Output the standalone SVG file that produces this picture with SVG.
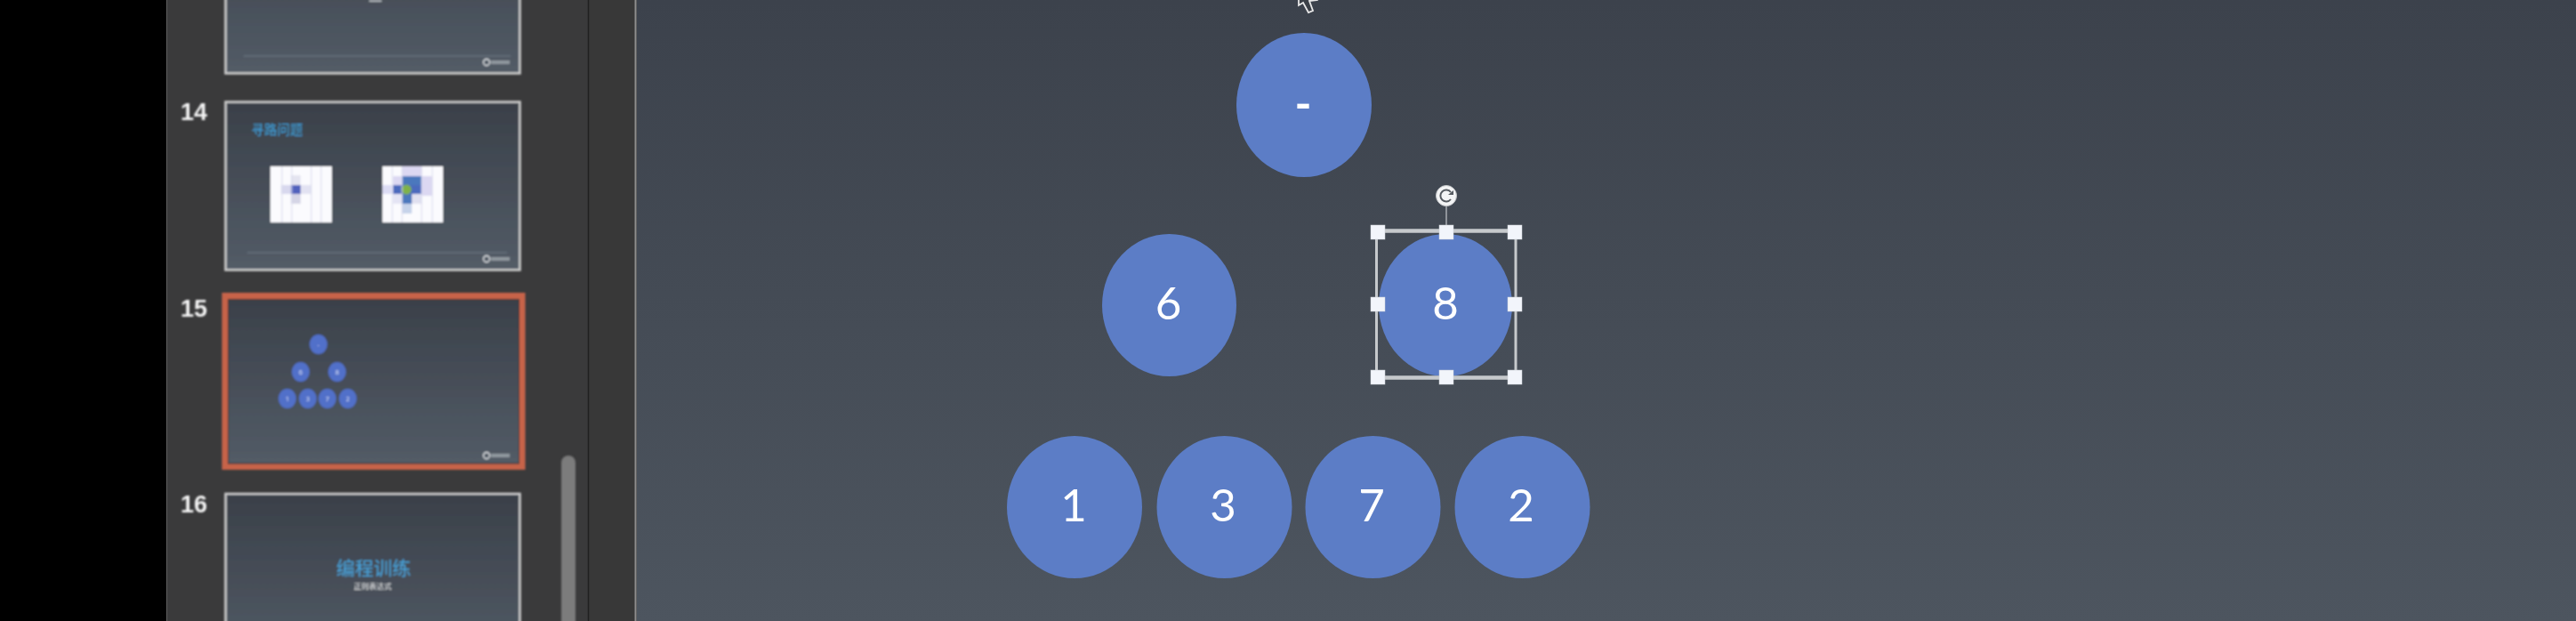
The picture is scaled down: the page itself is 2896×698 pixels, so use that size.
<svg xmlns="http://www.w3.org/2000/svg" width="2896" height="698" viewBox="0 0 2896 698">
<style>
.num{font-family:"Liberation Sans",Arial,sans-serif;font-weight:700;font-size:27px;fill:#f4f4f4;text-anchor:middle}
.lbl{font-family:Lato,"Noto Sans",sans-serif;font-size:51px;fill:#fff;text-anchor:middle}
.tl{font-family:"Noto Sans",sans-serif;font-size:7px;fill:#dfe6fa;text-anchor:middle}
.node{fill:#5b7dc6}
.tnode{fill:#5170c9}
.frame{fill:url(#sl);stroke:#cfcfcf;stroke-width:2.5}
.cjk{font-family:"Noto Sans CJK SC",sans-serif;text-anchor:middle}
.h{fill:#f2f5fb;stroke:#cfd3d8;stroke-width:.5}
.sel{stroke:#c6c9cc}
.foot{stroke:#66717c;stroke-width:1.5}
.grid{stroke:#d7d9ec;stroke-width:1}
.logo{fill:none;stroke:#e4e7ea;stroke-width:1.3}
.logot{fill:#aab0b6;opacity:.7}
</style>
<defs>
<linearGradient id="bg" x1="0" y1="0" x2="0" y2="1"><stop offset="0" stop-color="#3c424c"/><stop offset="1" stop-color="#4d555f"/></linearGradient>
<linearGradient id="sl" x1="0" y1="0" x2="0" y2="1"><stop offset="0" stop-color="#3a4049"/><stop offset="1" stop-color="#535c67"/></linearGradient>
<linearGradient id="sl13" gradientUnits="userSpaceOnUse" x1="0" y1="-100" x2="0" y2="83"><stop offset="0" stop-color="#3a4049"/><stop offset="1" stop-color="#535c67"/></linearGradient>
<linearGradient id="sl16" gradientUnits="userSpaceOnUse" x1="0" y1="554" x2="0" y2="750"><stop offset="0" stop-color="#3a4049"/><stop offset="1" stop-color="#535c67"/></linearGradient>
<filter id="b1" x="-5%" y="-5%" width="110%" height="110%"><feGaussianBlur stdDeviation="1"/></filter>
<filter id="b2" x="-5%" y="-5%" width="110%" height="110%"><feGaussianBlur stdDeviation="0.6"/></filter>
</defs>

<rect x="0" y="0" width="2896" height="698" fill="#000"/>
<rect x="187" y="0" width="475" height="698" fill="#3a3a3b"/>
<rect x="662" y="0" width="54" height="698" fill="#383838"/>
<rect x="716" y="0" width="2180" height="698" fill="url(#bg)"/>
<line x1="187.500" y1="0" x2="187.500" y2="698" stroke="#5e5e5e" stroke-width="1"/>
<line x1="661.500" y1="0" x2="661.500" y2="698" stroke="#202020" stroke-width="1.500"/>
<line x1="714.500" y1="0" x2="714.500" y2="698" stroke="#8e8e8e" stroke-width="2"/>

<g id="sidebar" filter="url(#b1)">
<g id="slide13">
<rect x="253.500" y="-10" width="331" height="92.500" fill="url(#sl13)" stroke="#cfcfcf" stroke-width="2.500"/>
<rect x="415" y="0" width="14" height="2" fill="#aeb3b8"/>
<line class="foot" x1="274" y1="63" x2="574" y2="63"/>
<circle class="logo" cx="547" cy="70" r="3.500"/><rect class="logot" x="552" y="68" width="21" height="4"/>
</g>
<g id="slide14">
<text class="num" x="218" y="135">14</text>
<rect class="frame" x="253.500" y="114.500" width="331" height="189"/>
<text class="cjk" x="311.500" y="151" font-size="14.500" fill="#3f9fd8">寻路问题</text>
<g id="grid1">
<rect x="304" y="187" width="69" height="63" fill="#fbfbfe"/>
<rect x="316" y="208" width="11" height="10" fill="#d8d8ee"/>
<rect x="338" y="208" width="12" height="10" fill="#e2e2f2"/>
<rect x="327" y="197" width="11" height="11" fill="#e4e4f0"/>
<rect x="327" y="218" width="11" height="11" fill="#d5d5e6"/>
<rect x="327" y="208" width="11" height="10" fill="#5162bd"/>
<path class="grid" d="M317 187V250M328 187V250M350 187V250M361 187V250"/>
</g>
<g id="grid2">
<rect x="430" y="187" width="68" height="63" fill="#fbfbfe"/>
<rect x="452" y="187" width="22" height="11" fill="#dcd8f2"/>
<rect x="474" y="198" width="12" height="22" fill="#dcd8f2"/>
<rect x="430" y="208" width="12" height="10" fill="#dcdcf4"/>
<rect x="442" y="198" width="10" height="10" fill="#dcd8f2"/>
<rect x="442" y="218" width="10" height="11" fill="#e4e4f4"/>
<rect x="463" y="218" width="11" height="11" fill="#e0e0f0"/>
<rect x="452" y="229" width="11" height="11" fill="#c6d3ea"/>
<rect x="452" y="198" width="22" height="10" fill="#4c78bd"/>
<rect x="442" y="208" width="32" height="10" fill="#4c6bbd"/>
<rect x="452" y="218" width="11" height="11" fill="#4c78bd"/>
<circle cx="457" cy="213" r="5.500" fill="#7fb24a"/>
<path class="grid" d="M441 187V250M452 187V250M474 187V250M486 187V250"/>
</g>
<line class="foot" x1="278" y1="284" x2="570" y2="284"/>
<circle class="logo" cx="547" cy="291" r="3.500"/><rect class="logot" x="552" y="289" width="21" height="4"/>
</g>
<g id="slide15">
<text class="num" x="218" y="356">15</text>
<rect x="253" y="332.500" width="334" height="192" fill="url(#sl)" stroke="#c7634a" stroke-width="7"/>
<rect x="256.500" y="336.500" width="327" height="184.500" fill="none" stroke="#34302f" stroke-width="1"/>
<g id="thumb-root"><ellipse class="tnode" cx="358" cy="387" rx="10" ry="11"/><text class="tl" x="358" y="390">-</text></g>
<g id="thumb-6"><ellipse class="tnode" cx="338" cy="418" rx="10" ry="11"/><text class="tl" x="338" y="420.500">6</text></g>
<g id="thumb-8"><ellipse class="tnode" cx="379" cy="418" rx="10" ry="11"/><text class="tl" x="379" y="420.500">8</text></g>
<g id="thumb-1"><ellipse class="tnode" cx="323" cy="448" rx="10" ry="11"/><text class="tl" x="323" y="450.500">1</text></g>
<g id="thumb-3"><ellipse class="tnode" cx="346" cy="448" rx="10" ry="11"/><text class="tl" x="346" y="450.500">3</text></g>
<g id="thumb-7"><ellipse class="tnode" cx="368" cy="448" rx="10" ry="11"/><text class="tl" x="368" y="450.500">7</text></g>
<g id="thumb-2"><ellipse class="tnode" cx="391" cy="448" rx="10" ry="11"/><text class="tl" x="391" y="450.500">2</text></g>
<circle class="logo" cx="547" cy="512" r="3.500"/><rect class="logot" x="552" y="510" width="21" height="4"/>
</g>
<g id="slide16">
<text class="num" x="218" y="576">16</text>
<rect x="253.500" y="555" width="331" height="160" fill="url(#sl16)" stroke="#cfcfcf" stroke-width="2.500"/>
<text class="cjk" x="420" y="646" font-size="21" fill="#47a3da">编程训练</text>
<text class="cjk" x="419" y="662" font-size="8.500" fill="#f2f2f2">正则表达式</text>
</g>
<rect id="scrollbar" x="631" y="512" width="16" height="200" rx="8" fill="#7b7b7c"/>
</g>

<g id="main" filter="url(#b2)">
<g id="node-root"><ellipse class="node" cx="1466" cy="118" rx="76" ry="81"/><text class="lbl" x="1465" y="135" font-weight="700">-</text></g>
<g id="node-6"><ellipse class="node" cx="1314.500" cy="343" rx="75.500" ry="80"/><text class="lbl" x="1313.500" y="359">6</text></g>
<g id="node-8"><ellipse class="node" cx="1625" cy="343" rx="75" ry="80"/><text class="lbl" x="1625" y="359">8</text></g>
<g id="node-1"><ellipse class="node" cx="1208" cy="570" rx="76" ry="80"/><text class="lbl" x="1207" y="586">1</text></g>
<g id="node-3"><ellipse class="node" cx="1376.500" cy="570" rx="76" ry="80"/><text class="lbl" x="1375" y="586">3</text></g>
<g id="node-7"><ellipse class="node" cx="1543.500" cy="570" rx="76" ry="80"/><text class="lbl" x="1542" y="586">7</text></g>
<g id="node-2"><ellipse class="node" cx="1711.500" cy="570" rx="76" ry="80"/><text class="lbl" x="1710" y="586">2</text></g>
<g id="selection">
<path class="sel" stroke-width="3" fill="none" d="M1547.500 260V424M1704 260V424"/>
<path class="sel" stroke-width="4.500" fill="none" d="M1547.500 259.500H1704M1547.500 424.500H1704"/>
<line x1="1626" y1="232" x2="1626" y2="254" stroke="#a9adb2" stroke-width="1.500"/>
<circle cx="1626" cy="220" r="11.500" fill="#f3f4f5" stroke="#c4c6c9" stroke-width="1"/>
<path d="M1631 216a6.500 6.500 0 1 0 0 8" fill="none" stroke="#555a60" stroke-width="2"/>
<path d="M1628 219h6v-5z" fill="#555a60"/>
<rect class="h" x="1541" y="253" width="16" height="16"/><rect class="h" x="1618" y="253" width="16" height="16"/><rect class="h" x="1695" y="253" width="16" height="16"/>
<rect class="h" x="1541" y="334" width="16" height="16"/><rect class="h" x="1695" y="334" width="16" height="16"/>
<rect class="h" x="1541" y="416" width="16" height="16"/><rect class="h" x="1618" y="416" width="16" height="16"/><rect class="h" x="1695" y="416" width="16" height="16"/>
</g>
<path id="cursor" d="M1460 -4L1460 6L1465 3L1471 14L1476 12L1472 1L1480 0L1470 -8Z" fill="#3a3f47" stroke="#e8e8e8" stroke-width="1.800"/>
</g>
</svg>
